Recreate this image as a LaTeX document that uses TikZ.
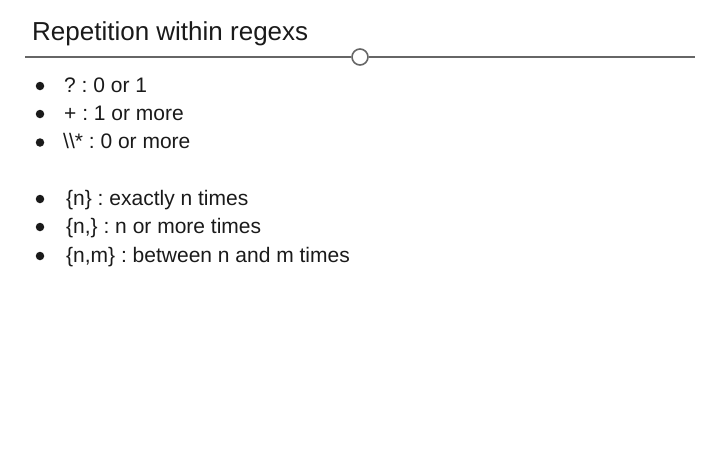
\documentclass[tikz,border=0pt]{standalone}
\usepackage{fontspec}
\setmainfont{Liberation Sans}
\definecolor{rulegray}{HTML}{666666}
\definecolor{inkgray}{HTML}{1A1A1A}
\tikzset{
  itemtext/.style={anchor=base west, inner sep=0pt, text=inkgray, font=\fontsize{21}{25}\selectfont\frenchspacing},
  itemdot/.style={circle, fill=inkgray, inner sep=0pt, minimum size=8.5pt},
}
\begin{document}
\begin{tikzpicture}[x=1pt,y=-1pt]
            \useasboundingbox (0,0) rectangle (720,450);

            % Title and rule
            \node[anchor=base west, inner sep=0pt, text=inkgray, font=\fontsize{26}{30}\selectfont] (title) at (32,40) {Repetition within regexs};
            \coordinate (ruleL) at (25,57);
            \coordinate (ruleR) at (695,57);
            \node[circle, draw=rulegray, fill=white, line width=1.6pt, inner sep=0pt, minimum width=15pt, minimum height=16pt] (knob) at (360,57) {};
            \draw[rulegray, line width=1.6pt] (ruleL) -- (knob.west);
            \draw[rulegray, line width=1.6pt] (knob.east) -- (ruleR);

            % First group
            \node[itemdot] (dotA) at (40,86) {};
            \node[itemtext] (itemA) at (64,92) {? : 0 or 1};
            \node[itemdot] (dotB) at (40,114) {};
            \node[itemtext] (itemB) at (64,120) {+ : 1 or more};
            \node[itemdot] (dotC) at (40,142.5) {};
            \node[itemtext] (itemC) at (63,148.5) {\textbackslash\textbackslash* : 0 or more};

            % Second group
            \node[itemdot] (dotD) at (40,199) {};
            \node[itemtext] (itemD) at (66,205) {\{n\} : exactly n times};
            \node[itemdot] (dotE) at (40,227) {};
            \node[itemtext] (itemE) at (66,233) {\{n,\} : n or more times};
            \node[itemdot] (dotF) at (40,256) {};
            \node[itemtext] (itemF) at (66,262) {\{n,m\} : between n and m times};

        \end{tikzpicture}
\end{document}
